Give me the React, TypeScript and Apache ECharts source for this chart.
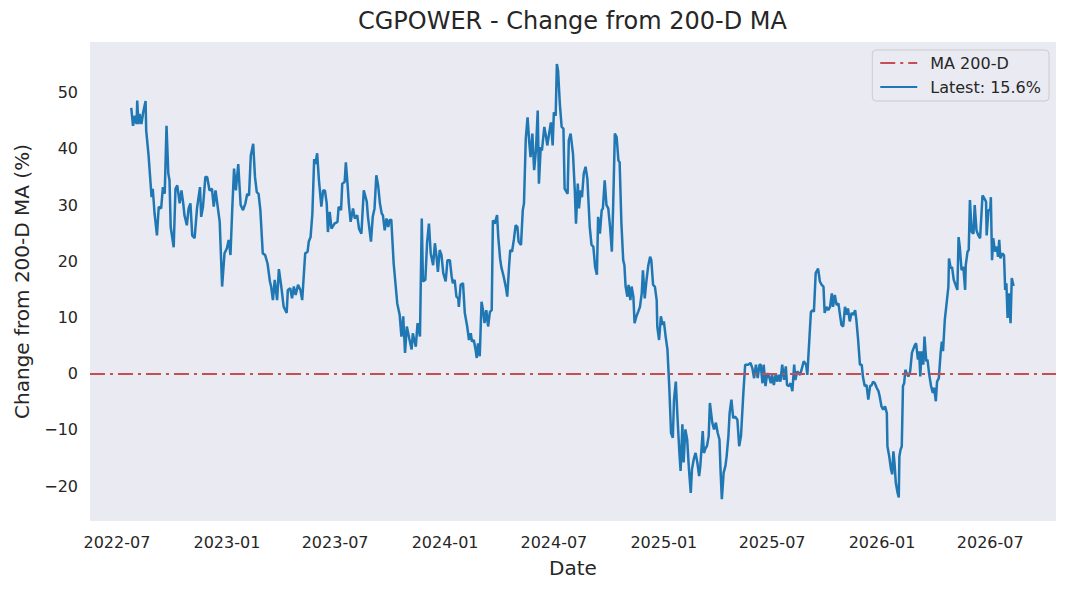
import React, { useEffect, useRef } from "react";
import * as echarts from "echarts";

// Days since BASE_DATE, % change from the 200-day moving average
const BASE_DATE = "2022-07-01";
const changeFromMa: [number, number][] = [
  [24,47.3],[27,44.1],[30,45.9],[33,44.4],[34,48.6],[36,44.4],[38,46.2],[41,44.4],[44,46.5],[48,48.5],
  [49,43.3],[53,38.8],[58,31.4],[60,32.9],[63,28.5],[67,24.6],[70,29.7],[74,29.4],[77,33.2],[80,32.0],
  [83,44.1],[86,35.6],[88,34.4],[90,26.1],[95,22.5],[98,32.9],[101,33.5],[105,30.3],[108,32.6],[111,30.3],
  [113,28.2],[117,26.4],[120,29.4],[123,30.3],[126,24.6],[130,24.1],[134,29.4],[139,33.2],[141,27.9],[144,29.7],
  [148,35.0],[151,35.0],[155,32.6],[159,32.9],[162,29.7],[165,32.6],[172,27.0],[176,15.5],[180,21.4],[184,22.3],
  [187,23.8],[190,21.1],[193,29.4],[196,36.5],[199,32.6],[203,37.3],[207,30.0],[211,29.1],[215,30.3],[218,32.0],
  [221,31.7],[224,38.8],[228,40.9],[231,35.0],[234,32.3],[237,32.0],[240,29.1],[244,21.4],[248,21.1],[252,19.6],
  [256,16.4],
  [258,15.5],[261,13.1],[264,16.7],[268,13.1],[271,18.6],[275,15.5],[279,11.9],[284,10.8],[286,14.9],[290,15.2],
  [293,13.4],[296,15.5],[299,14.0],[303,15.8],[307,14.9],[310,13.1],[313,18.1],[315,21.4],[319,21.7],[321,23.5],
  [324,24.3],[327,28.5],[330,38.2],[332,37.3],[335,39.2],[338,34.4],[342,29.7],[345,32.6],[348,32.6],[351,30.3],
  [353,25.2],[356,28.8],[359,25.8],[364,26.7],[369,27.0],[371,29.7],[375,29.1],[377,33.8],[381,34.1],[383,37.6],
  [386,33.5],[388,30.3],[391,27.0],[395,29.4],[398,27.6],[402,28.2],[405,25.8],[409,24.9],[413,32.6],[418,30.6],
  [420,27.9],[425,23.5],[428,27.9],[431,29.4],[434,35.3],[437,33.5],[440,30.3],[443,28.5],[445,28.2],[448,25.5],
  [451,27.6],[454,26.1],[456,27.3],[459,27.4],[463,19.6],[469,12.5],[473,10.5],[476,6.6],[479,10.2],[482,3.7],
  [485,8.4],[489,6.3],[493,4.3],[495,7.2],[500,4.8],[503,9.0],[507,6.6],[510,27.6],[512,16.4],[516,16.7],
  [519,23.5],[522,26.7],[525,21.4],[529,19.3],[532,23.2],[535,20.5],[537,18.1],[540,22.0],[543,21.1],[546,17.9],
  [550,16.4],[553,20.2],[557,20.2],[560,17.3],[562,16.1],[565,16.7],[568,13.7],[571,13.4],[572,11.9],[575,15.8],
  [579,16.1],[582,10.8],[586,8.4],[589,6.0],[592,7.2],[594,5.7],[597,6.0],[600,4.3],[602,2.8],[604,5.4],
  [607,3.1],[610,12.8],[613,11.0],[615,9.0],[618,11.3],[621,8.4],[624,11.0],[627,11.3],[629,27.3],[632,26.7],
  [636,28.2],[638,24.3],[641,20.5],[643,19.0],[647,17.3],[651,15.2],[653,13.7],[656,19.0],[658,22.0],[661,21.7],
  [664,23.8],[667,26.4],[670,26.1],[672,23.5],[676,22.9],[679,29.1],[681,30.3],[684,41.8],[687,45.6],[690,40.9],
  [692,38.5],[695,42.7],[698,36.2],[701,39.7],[704,46.8],[706,33.8],[709,40.3],[711,39.7],[715,43.9],[718,42.1],
  [720,40.6],[723,42.7],[726,44.7],[729,40.6],[731,46.5],[734,45.9],[736,55.1],[738,53.9],[741,48.0],[744,43.9],
  [747,43.6],[749,32.9],[754,32.0],[756,41.5],[759,42.7],[763,39.1],[766,32.6],
  [768,26.7],[771,33.8],[773,29.4],[776,32.6],[778,31.4],[781,35.6],[784,36.8],[787,34.7],[791,26.1],[794,22.9],
  [797,22.6],[800,19.0],[803,17.6],[805,27.9],[808,24.9],[811,29.1],[813,29.4],[816,34.4],[819,30.0],[822,29.4],
  [825,26.1],[828,21.7],[830,29.1],[833,42.7],[836,42.1],[839,37.9],[841,37.6],[844,26.7],[847,20.2],[849,19.3],
  [851,15.5],[854,13.7],[856,15.8],[859,13.1],[861,15.5],[864,13.7],[866,9.0],[869,10.2],[872,11.0],[875,11.9],
  [878,14.3],[880,18.4],[883,13.4],[886,16.7],[889,19.3],[892,20.8],[894,20.2],[897,15.8],[900,15.5],[903,13.1],
  [904,8.4],[907,6.0],[910,10.2],[913,8.7],[915,9.3],[918,6.6],[921,4.3],[924,-2.2],[927,-10.5],[930,-11.4],
  [932,-4.6],[935,-1.4],[938,-8.2],[941,-14.1],[943,-17.3],[946,-9.0],[948,-15.8],[951,-9.9],[954,-11.7],[957,-17.0],
  [960,-21.2],[962,-17.0],[965,-15.2],[968,-14.1],[971,-15.8],[974,-18.2],[976,-16.4],[980,-10.2],[982,-14.1],[985,-13.2],
  [987,-12.9],[990,-11.1],[992,-5.2],[996,-8.7],[999,-9.9],[1002,-8.7],[1005,-10.5],[1008,-11.7],[1010,-17.6],[1012,-22.3],
  [1015,-17.6],[1018,-16.4],[1020,-14.7],[1023,-11.1],[1025,-7.0],[1028,-4.6],[1031,-7.9],[1034,-7.6],[1038,-8.2],[1041,-12.9],
  [1044,-11.1],[1048,-3.4],[1051,1.6],
  [1056,1.6],[1060,1.9],[1063,1.0],[1066,-0.8],[1069,1.6],[1072,-0.8],[1075,1.6],[1077,1.6],[1080,-1.7],[1082,1.6],
  [1085,-2.2],[1088,0.1],[1091,-0.5],[1094,-1.7],[1096,-0.2],[1099,-2.0],[1102,-0.2],[1105,-1.4],[1107,-0.2],[1110,-1.4],
  [1113,1.6],[1116,-1.1],[1119,1.3],[1121,-2.0],[1124,-2.2],[1127,-1.7],[1130,-3.1],[1133,1.6],[1135,-1.1],[1138,0.4],
  [1143,-0.2],[1146,1.0],[1149,2.2],[1153,1.6],[1155,-0.2],[1158,5.4],[1161,11.0],[1164,11.3],[1166,11.0],[1169,17.9],
  [1173,18.7],[1176,16.4],[1179,15.8],[1182,15.5],[1184,10.8],[1187,11.9],[1190,11.3],[1193,11.9],[1196,14.3],[1198,11.9],
  [1201,14.0],[1204,12.2],[1207,12.5],[1210,10.2],[1212,8.7],[1215,8.4],[1218,11.9],[1221,10.5],[1223,11.6],[1226,9.3],
  [1229,10.8],[1232,10.5],[1235,11.3],[1237,9.6],[1240,6.0],[1243,1.6],[1246,1.6],[1248,-0.5],[1251,-2.2],[1254,-2.0],
  [1257,-4.6],[1260,-2.2],[1263,-2.0],[1265,-1.4],[1268,-1.7],[1271,-2.5],[1274,-3.1],[1276,-4.0],[1279,-5.8],[1282,-6.4],
  [1285,-5.8],[1288,-7.0],[1289,-12.9],[1292,-14.7],[1295,-17.0],[1297,-17.9],[1299,-13.8],[1301,-16.1],[1303,-19.4],[1306,-21.2],
  [1308,-22.0],[1309,-14.7],[1311,-13.5],[1313,-12.9],[1315,-2.2],[1317,-1.7],[1319,0.7],[1321,0.1],[1324,-0.5],[1327,0.4],
  [1330,3.7],[1332,4.3],[1335,5.1],[1337,5.4],[1340,2.5],[1342,4.0],[1344,-0.5],[1346,4.0],[1349,1.6],[1351,6.6],
  [1354,2.2],[1356,2.5],[1359,-0.2],[1362,-2.2],[1365,-3.4],[1367,-2.5],[1370,-4.9],[1372,-1.4],[1375,-0.8],[1378,3.7],
  [1380,5.7],[1382,4.0],[1385,9.6],[1388,12.5],[1391,15.5],[1392,20.5],[1395,18.7],[1397,19.0],[1400,16.7],[1404,15.5],
  [1406,14.9],[1408,24.3],[1410,22.6],[1413,18.4],[1416,19.0],[1419,14.9],[1420,19.3],[1423,21.7],[1425,22.0],[1427,30.9],
  [1430,25.2],[1433,24.9],[1435,30.0],[1438,25.5],[1441,24.6],[1444,24.1],[1447,29.7],[1448,31.7],[1451,31.2],[1454,30.6],
  [1455,24.6],[1458,29.1],[1461,29.1],[1462,31.4],[1464,20.2],[1466,24.1],[1469,21.7],[1472,22.6],[1474,20.8],[1476,23.8],
  [1478,20.5],[1481,21.4],[1484,21.1],[1486,14.9],[1488,16.1],[1490,9.9],[1492,14.3],[1495,9.0],[1497,17.0],[1500,15.6],
];

const maLevel = 0;
const xTickLabels = ["2022-07", "2023-01", "2023-07", "2024-01", "2024-07", "2025-01", "2025-07", "2026-01", "2026-07"];
const yTickValues = [-20, -10, 0, 10, 20, 30, 40, 50];
const xRangeDays = [-45, 1571];
const yRange = [-26.2, 59.0];

const DAY_MS = 86400000;
const FONT = "DejaVu Sans";
const TEXT = "#262626";
const MA_COLOR = "#C44E52";
const LINE_COLOR = "#1F77B4";
const DASH_DOT = [15, 5, 3, 5];

export default function App() {
  const ref = useRef<HTMLDivElement>(null);

  useEffect(() => {
    if (!ref.current) return;
    const chart = echarts.init(ref.current, undefined, { renderer: "svg" });
    const baseTs = Date.parse(BASE_DATE + "T00:00:00Z");
    const points = changeFromMa.map(([d, v]) => [baseTs + d * DAY_MS, v]);
    const latest = changeFromMa[changeFromMa.length - 1][1];
    const latestName = `Latest: ${latest.toFixed(1)}%`;
    const xTickValues = xTickLabels.map((s) => Date.parse(s + "-01T00:00:00Z"));
    const pad2 = (n: number) => (n < 10 ? "0" + n : String(n));

    chart.setOption({
      animation: false,
      backgroundColor: "#ffffff",
      textStyle: { fontFamily: FONT },
      title: {
        text: "CGPOWER - Change from 200-D MA",
        left: 358,
        top: 9,
        padding: 0,
        textStyle: { fontFamily: FONT, fontSize: 24, fontWeight: "normal", color: TEXT },
      },
      grid: {
        left: 90,
        right: 13,
        top: 42,
        bottom: 71,
        show: true,
        backgroundColor: "#EAEAF2",
        borderWidth: 0,
      },
      legend: {
        orient: "vertical",
        right: 20,
        top: 50,
        padding: [5, 8, 6, 7],
        itemWidth: 37,
        itemHeight: 14,
        itemGap: 8,
        backgroundColor: "#EAEAF2",
        borderColor: "#CCCCCC",
        borderWidth: 1,
        borderRadius: 4,
        itemStyle: { opacity: 0, borderWidth: 0 },
        textStyle: { fontFamily: FONT, fontSize: 16, color: TEXT, padding: [0, 0, 0, 8] },
        data: ["MA 200-D", latestName],
      },
      xAxis: {
        type: "value",
        min: baseTs + xRangeDays[0] * DAY_MS,
        max: baseTs + xRangeDays[1] * DAY_MS,
        axisLine: { show: false },
        axisTick: { show: false },
        splitLine: { show: false },
        axisLabel: {
          customValues: xTickValues,
          formatter: (v: number) => {
            const d = new Date(v);
            return `${d.getUTCFullYear()}-${pad2(d.getUTCMonth() + 1)}`;
          },
          fontFamily: FONT,
          fontSize: 16,
          color: TEXT,
          margin: 13,
        },
        name: "Date",
        nameLocation: "middle",
        nameGap: 37,
        nameTextStyle: { fontFamily: FONT, fontSize: 20, color: TEXT },
      },
      yAxis: {
        type: "value",
        min: yRange[0],
        max: yRange[1],
        axisLine: { show: false },
        axisTick: { show: false },
        splitLine: { show: false },
        axisLabel: {
          customValues: yTickValues,
          formatter: (v: number) => (v < 0 ? "\u2212" + Math.abs(v) : String(v)),
          fontFamily: FONT,
          fontSize: 16,
          color: TEXT,
          margin: 12,
        },
        name: "Change from 200-D MA (%)",
        nameLocation: "middle",
        nameGap: 58,
        nameTextStyle: { fontFamily: FONT, fontSize: 20, color: TEXT },
      },
      series: [
        {
          name: "MA 200-D",
          type: "line",
          data: [],
          symbol: "none",
          itemStyle: { color: MA_COLOR },
          lineStyle: { color: MA_COLOR, width: 2.2, type: DASH_DOT },
          markLine: {
            silent: true,
            symbol: ["none", "none"],
            label: { show: false },
            lineStyle: { color: MA_COLOR, width: 2.2, type: DASH_DOT },
            data: [{ yAxis: maLevel }],
          },
        },
        {
          name: latestName,
          type: "line",
          data: points,
          symbol: "none",
          showSymbol: false,
          itemStyle: { color: LINE_COLOR },
          lineStyle: { color: LINE_COLOR, width: 2.5 },
          z: 3,
        },
      ],
    });

    return () => chart.dispose();
  }, []);

  return (
    <div
      ref={ref}
      style={{ position: "absolute", left: 0, top: 0, width: 1069, height: 592 }}
    />
  );
}
